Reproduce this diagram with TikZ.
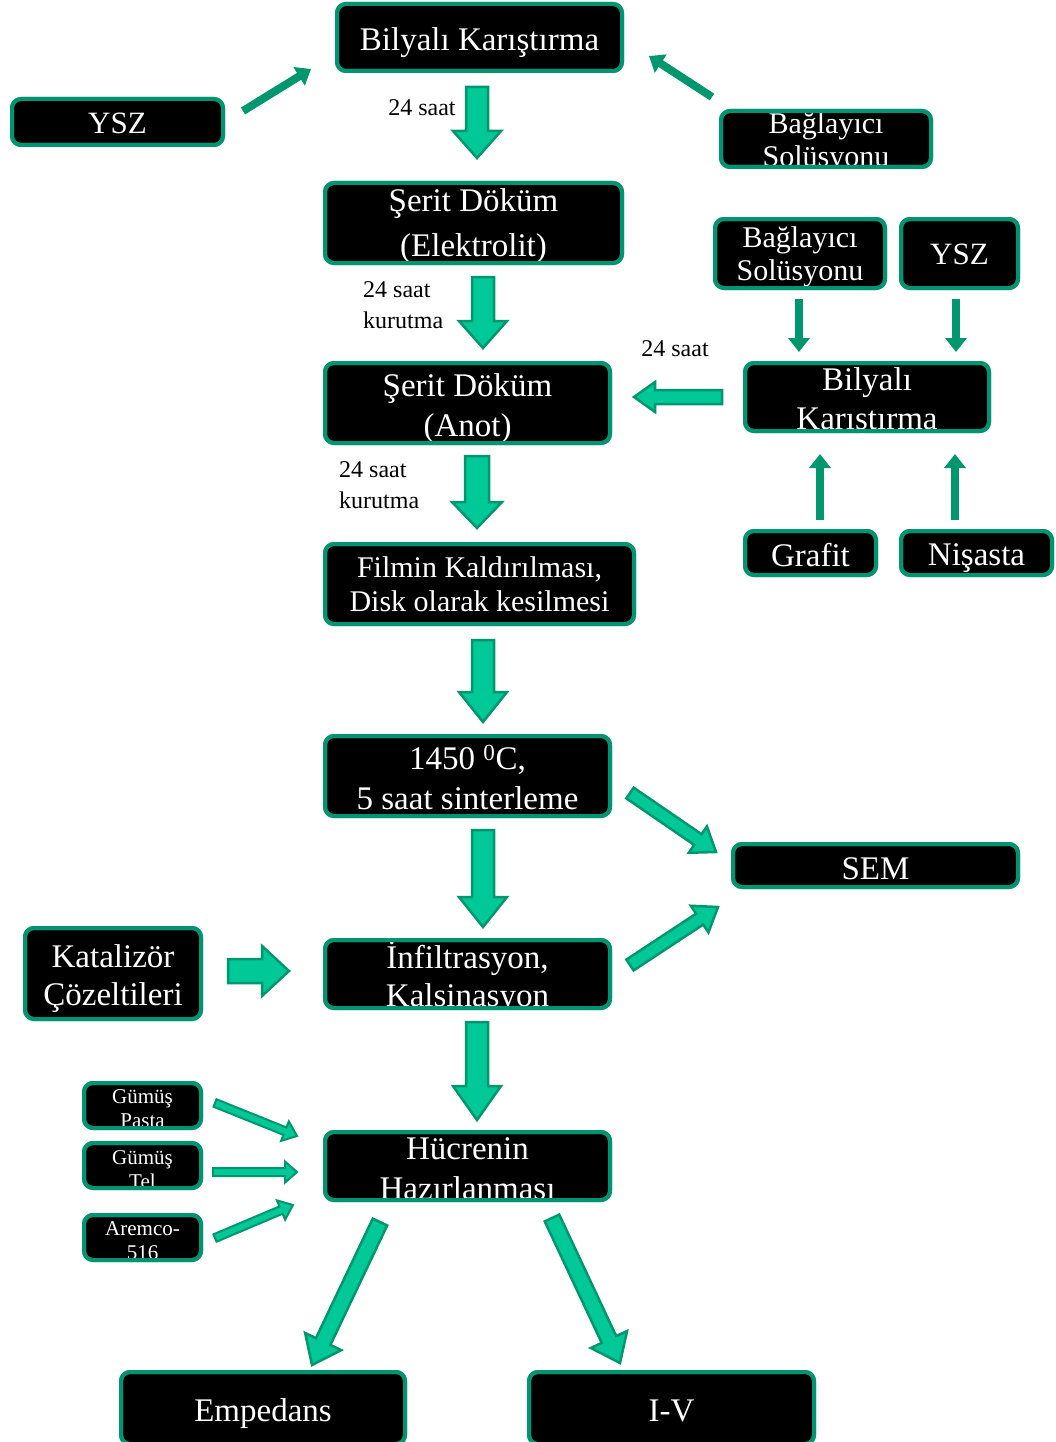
\documentclass[tikz,border=0pt]{standalone}
\usepackage{fontspec}
\setmainfont{Liberation Serif}
\usetikzlibrary{calc,arrows.meta}
\definecolor{bordergreen}{RGB}{0,148,112}
\definecolor{arrowfill}{RGB}{0,200,150}
\definecolor{arrowline}{RGB}{0,150,110}
\tikzset{
  box/.style={draw=bordergreen, line width=4pt, fill=black, rounded corners=9pt, inner sep=0pt},
  boxborder/.style={draw=bordergreen, line width=4pt, rounded corners=9pt},
  boxtext/.style={text=white, align=center, inner sep=0pt, font=\fontsize{33}{40}\selectfont},
  thinarr/.style={draw=arrowline, line width=8pt, -{Triangle[width=21pt,length=14pt]}},
  blockarr/.style={draw=arrowline, fill=arrowfill, line width=2.5pt, line join=miter},
  lbl/.style={font=\fontsize{24}{31}\selectfont, text=black, inner sep=0pt, align=left},
}
% \bx[text opts]{name}{x}{y}{width}{height}{text shift down}{text}
\newcommand\bx[8][]{%
  \node[box, minimum width=#5, minimum height=#6] (#2) at (#3,#4) {};
  \node[boxtext,#1] (#2-t) at ($(#2.center)+(0,#7)$) {#8};
  \draw[boxborder] ($(#2.north west)+(2,2)$) rectangle ($(#2.south east)+(-2,-2)$);
}
% [opts]{from}{to}{shaft half width}{head half width}{head length}
\newcommand\blockarrow[6][]{%
  \coordinate (bah) at ($(#3)!#6!(#2)$);
  \draw[blockarr,#1] ($(#2)!#4!90:(#3)$) -- ($(bah)!#4!90:(#3)$) -- ($(bah)!#5!90:(#3)$)
    -- (#3) -- ($(bah)!#5!-90:(#3)$) -- ($(bah)!#4!-90:(#3)$) -- ($(#2)!#4!-90:(#3)$) -- cycle;
}
\begin{document}
\begin{tikzpicture}[x=1pt,y=-1pt]
\useasboundingbox (0,0) rectangle (1056,1442);

% boxes
\bx{bk1}{479.5}{37.5}{285pt}{67pt}{5}{Bilyalı Karıştırma}
\bx[font=\fontsize{31}{36}\selectfont]{ysz1}{117.5}{122}{211pt}{46pt}{1}{YSZ}
\bx[font=\fontsize{30}{33}\selectfont]{bag1}{826}{139}{210pt}{56pt}{4}{Bağlayıcı\\Solüsyonu}
\bx[font=\fontsize{33}{45}\selectfont]{elek}{473.5}{223}{297pt}{80pt}{3}{Şerit Döküm\\(Elektrolit)}
\bx[font=\fontsize{30}{33}\selectfont]{bag2}{800}{253.5}{170pt}{69pt}{3}{Bağlayıcı\\Solüsyonu}
\bx[font=\fontsize{31}{36}\selectfont]{ysz2}{959.5}{253.5}{117pt}{69pt}{1}{YSZ}
\bx{anot}{467.5}{403}{285pt}{80pt}{6}{Şerit Döküm\\(Anot)}
\bx[font=\fontsize{33}{39}\selectfont]{bk2}{867}{397}{244pt}{68pt}{5}{Bilyalı\\Karıştırma}
\bx{graf}{810.5}{553}{131pt}{44pt}{2}{Grafit}
\bx{nis}{976.5}{553}{151pt}{44pt}{5}{Nişasta}
\bx[font=\fontsize{30}{34}\selectfont]{film}{479.5}{584}{309pt}{80pt}{0}{Filmin Kaldırılması,\\Disk olarak kesilmesi}
\bx{sint}{467.5}{776}{285pt}{80pt}{1}{1450 \textsuperscript{0}C,\\5 saat sinterleme}
\bx{sem}{875.5}{865.5}{285pt}{43pt}{3}{SEM}
\bx[font=\fontsize{33}{38}\selectfont]{kat}{113}{973.5}{176pt}{91pt}{5}{Katalizör\\Çözeltileri}
\bx[font=\fontsize{33}{38}\selectfont]{inf}{467.5}{974}{285pt}{68pt}{3}{İnfiltrasyon,\\Kalsinasyon}
\bx[font=\fontsize{21}{24}\selectfont]{gp}{142.5}{1105.5}{117pt}{45pt}{3}{Gümüş\\Pasta}
\bx[font=\fontsize{21}{24}\selectfont]{gt}{142.5}{1165.5}{117pt}{45pt}{4}{Gümüş\\Tel}
\bx[font=\fontsize{21}{24}\selectfont]{ar}{142.5}{1237.5}{117pt}{45pt}{3}{Aremco-\\516}
\bx{huc}{467.5}{1166}{285pt}{68pt}{3}{Hücrenin\\Hazırlanması}
\bx{emp}{263}{1408}{284pt}{72pt}{6}{Empedans}
\bx{iv}{671.5}{1408}{285pt}{72pt}{3}{I-V}

% labels
\node[lbl] (l1) at (422,108) {24 saat};
\node[lbl, anchor=west] (l2) at (363,305) {24 saat\\kurutma};
\node[lbl, anchor=west] (l3) at (339,485) {24 saat\\kurutma};
\node[lbl] (l4) at (675,349) {24 saat};

% connector end points
\coordinate (c1a) at (243,111);  \coordinate (c1b) at (311,69);
\coordinate (c2a) at (712,97);   \coordinate (c2b) at (649,56);
\coordinate (c3a) at (799,299);  \coordinate (c3b) at (799,352);
\coordinate (c4a) at (956,299);  \coordinate (c4b) at (956,352);
\coordinate (c5a) at (820,520);  \coordinate (c5b) at (820,454);
\coordinate (c6a) at (955,520);  \coordinate (c6b) at (955,454);

\draw[thinarr] (c1a) -- (c1b);
\draw[thinarr] (c2a) -- (c2b);
\draw[thinarr] (c3a) -- (c3b);
\draw[thinarr] (c4a) -- (c4b);
\draw[thinarr] (c5a) -- (c5b);
\draw[thinarr] (c6a) -- (c6b);

\coordinate (a1a) at (477,87);    \coordinate (a1b) at (477,158);
\coordinate (a2a) at (483,277);   \coordinate (a2b) at (483,348);
\coordinate (a3a) at (722,397);   \coordinate (a3b) at (634,397);
\coordinate (a4a) at (477,456);   \coordinate (a4b) at (477,528);
\coordinate (a5a) at (483,640);   \coordinate (a5b) at (483,722);
\coordinate (a6a) at (483,830);   \coordinate (a6b) at (483,927);
\coordinate (a7a) at (630,793);   \coordinate (a7b) at (716,852);
\coordinate (a8a) at (630,965);   \coordinate (a8b) at (718,907);
\coordinate (a9a) at (228,971);   \coordinate (a9b) at (289,971);
\coordinate (a10a) at (477,1022); \coordinate (a10b) at (477,1120);
\coordinate (a11a) at (215,1103); \coordinate (a11b) at (297,1136);
\coordinate (a12a) at (213,1172); \coordinate (a12b) at (297,1172);
\coordinate (a13a) at (215,1238); \coordinate (a13b) at (293,1205);
\coordinate (a14a) at (380,1222); \coordinate (a14b) at (312,1365);
\coordinate (a15a) at (552,1218); \coordinate (a15b) at (620,1363);

\blockarrow{a1a}{a1b}{11pt}{24pt}{27pt}
\blockarrow{a2a}{a2b}{11pt}{24pt}{27pt}
\blockarrow{a3a}{a3b}{7pt}{15pt}{21pt}
\blockarrow{a4a}{a4b}{12pt}{25pt}{26pt}
\blockarrow{a5a}{a5b}{11pt}{24pt}{30pt}
\blockarrow{a6a}{a6b}{11pt}{24pt}{30pt}
\blockarrow{a7a}{a7b}{6.5pt}{16pt}{22pt}
\blockarrow{a8a}{a8b}{6.5pt}{16pt}{22pt}
\blockarrow{a9a}{a9b}{12pt}{25pt}{27pt}
\blockarrow{a10a}{a10b}{11pt}{24pt}{34pt}
\blockarrow[line width=2pt]{a11a}{a11b}{4pt}{10.5pt}{13pt}
\blockarrow[line width=2pt]{a12a}{a12b}{4pt}{10.5pt}{12pt}
\blockarrow[line width=2pt]{a13a}{a13b}{4pt}{10.5pt}{13pt}
\blockarrow{a14a}{a14b}{8pt}{20pt}{26pt}
\blockarrow{a15a}{a15b}{8pt}{20pt}{26pt}
\end{tikzpicture}
\end{document}
